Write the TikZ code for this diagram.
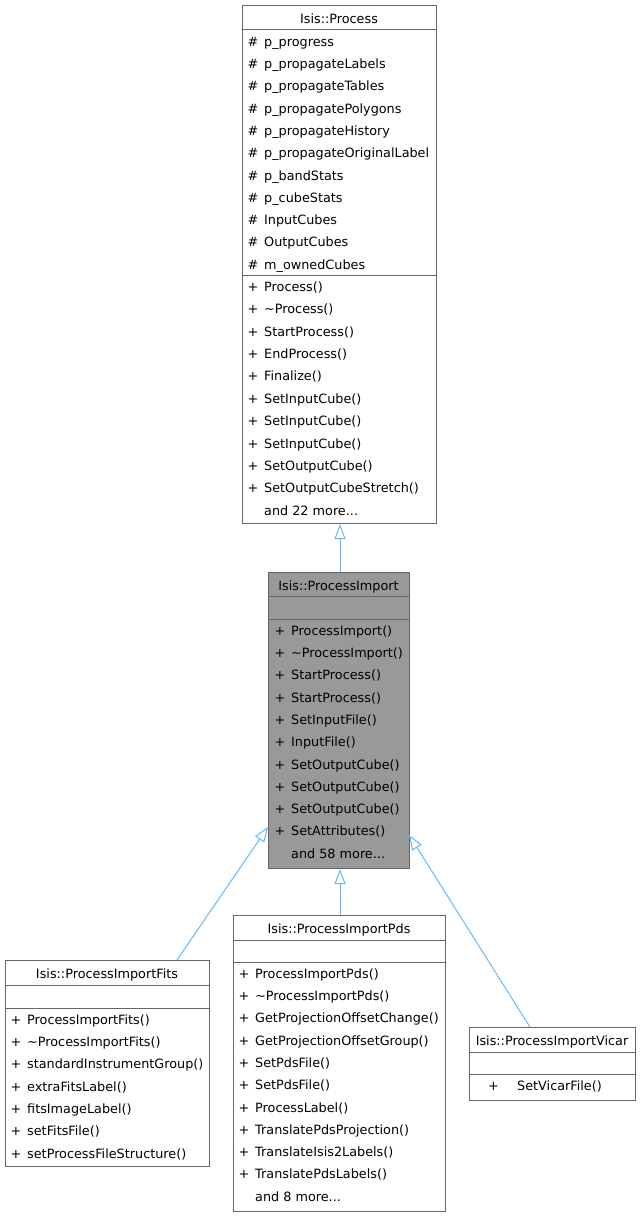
\documentclass[tikz,border=0pt]{standalone}
\usepackage{fontspec}
\setmainfont{DejaVu Sans}
\usetikzlibrary{arrows.meta}
\definecolor{edgec}{HTML}{63B8FF}
\definecolor{bord}{HTML}{666666}
\definecolor{selfill}{HTML}{999999}
\newcommand{\vis}[1]{\makebox[16.5pt][l]{#1}}
\begin{document}
\begin{tikzpicture}[x=1pt,y=-1pt,
  every node/.style={font=\fontsize{12.8}{15}\selectfont},
  box/.style={draw=bord, line width=1pt, fill=white, inner sep=0pt, anchor=north west},
  sep/.style={draw=bord, line width=1pt},
  txt/.style={inner sep=0pt, anchor=mid west, yshift=-2.5pt},
  ttl/.style={inner sep=0pt, anchor=mid, yshift=-2.5pt},
  inh/.style={draw=edgec, line width=1pt, -{Triangle[open, length=15pt, width=11pt, fill=white]}}]
\useasboundingbox (0,0) rectangle (641,1217);
% ---------- Isis::Process
\node[box, minimum width=194pt, minimum height=518pt] (proc) at (242,5) {};
\draw[sep] (242,30) -- (436,30);
\draw[sep] (242,275) -- (436,275);
\node[ttl] (procT) at (339,18) {Isis::Process};
\foreach \t [count=\i from 0] in {p\_progress, p\_propagateLabels, p\_propagateTables, p\_propagatePolygons, p\_propagateHistory, p\_propagateOriginalLabel, p\_bandStats, p\_cubeStats, InputCubes, OutputCubes, m\_ownedCubes}{
  \node[txt] (pa\i) at (247.5,41+22.3*\i) {\vis{\#}\t};
}
\foreach \t [count=\i from 0] in {Process(), \textasciitilde Process(), StartProcess(), EndProcess(), Finalize(), SetInputCube(), SetInputCube(), SetInputCube(), SetOutputCube(), SetOutputCubeStretch()}{
  \node[txt] (pm\i) at (247.5,286+22.4*\i) {\vis{+}\t};
}
\node[txt] (pmore) at (264,510) {and 22 more...};
% ---------- Isis::ProcessImport
\node[box, fill=selfill, minimum width=141pt, minimum height=296pt] (pimp) at (268,572) {};
\draw[sep] (268,596) -- (409,596);
\draw[sep] (268,619) -- (409,619);
\node[ttl] (pimpT) at (338.5,585) {Isis::ProcessImport};
\foreach \t [count=\i from 0] in {ProcessImport(), \textasciitilde ProcessImport(), StartProcess(), StartProcess(), SetInputFile(), InputFile(), SetOutputCube(), SetOutputCube(), SetOutputCube(), SetAttributes()}{
  \node[txt] (im\i) at (274.5,630+22.3*\i) {\vis{+}\t};
}
\node[txt] (imore) at (291,853) {and 58 more...};
% ---------- Isis::ProcessImportFits
\node[box, minimum width=204pt, minimum height=206pt] (fits) at (5,960) {};
\draw[sep] (5,985) -- (209,985);
\draw[sep] (5,1008) -- (209,1008);
\node[ttl] (fitsT) at (107,973) {Isis::ProcessImportFits};
\foreach \t [count=\i from 0] in {ProcessImportFits(), \textasciitilde ProcessImportFits(), standardInstrumentGroup(), extraFitsLabel(), fitsImageLabel(), setFitsFile(), setProcessFileStructure()}{
  \node[txt] (fm\i) at (10.5,1019+22.3*\i) {\vis{+}\t};
}
% ---------- Isis::ProcessImportPds
\node[box, minimum width=212pt, minimum height=296pt] (pds) at (233,915) {};
\draw[sep] (233,940) -- (445,940);
\draw[sep] (233,962) -- (445,962);
\node[ttl] (pdsT) at (339,928) {Isis::ProcessImportPds};
\foreach \t [count=\i from 0] in {ProcessImportPds(), \textasciitilde ProcessImportPds(), GetProjectionOffsetChange(), GetProjectionOffsetGroup(), SetPdsFile(), SetPdsFile(), ProcessLabel(), TranslatePdsProjection(), TranslateIsis2Labels(), TranslatePdsLabels()}{
  \node[txt] (dm\i) at (238.5,973+22.3*\i) {\vis{+}\t};
}
\node[txt] (dmore) at (255,1196) {and 8 more...};
% ---------- Isis::ProcessImportVicar
\node[box, minimum width=166pt, minimum height=73pt] (vic) at (469,1027) {};
\draw[sep] (469,1052) -- (635,1052);
\draw[sep] (469,1074) -- (635,1074);
\node[ttl] (vicT) at (552,1040) {Isis::ProcessImportVicar};
\node[txt] (vm0) at (488,1085) {\makebox[29pt][l]{+}SetVicarFile()};
% ---------- inheritance edges
\coordinate (fitsTop) at (177,960);
\coordinate (pimpL) at (268,827);
\coordinate (vicTop) at (530,1027);
\coordinate (pimpR) at (409,835);
\draw[inh] ([xshift=0.5pt]proc.south |- pimp.north) -- ([xshift=0.5pt]proc.south);
\draw[inh] (fitsTop) -- (pimpL);
\draw[inh] ([xshift=0.5pt]pds.north) -- ([xshift=0.5pt]pds.north |- pimp.south);
\draw[inh] (vicTop) -- (pimpR);
\end{tikzpicture}
\end{document}
